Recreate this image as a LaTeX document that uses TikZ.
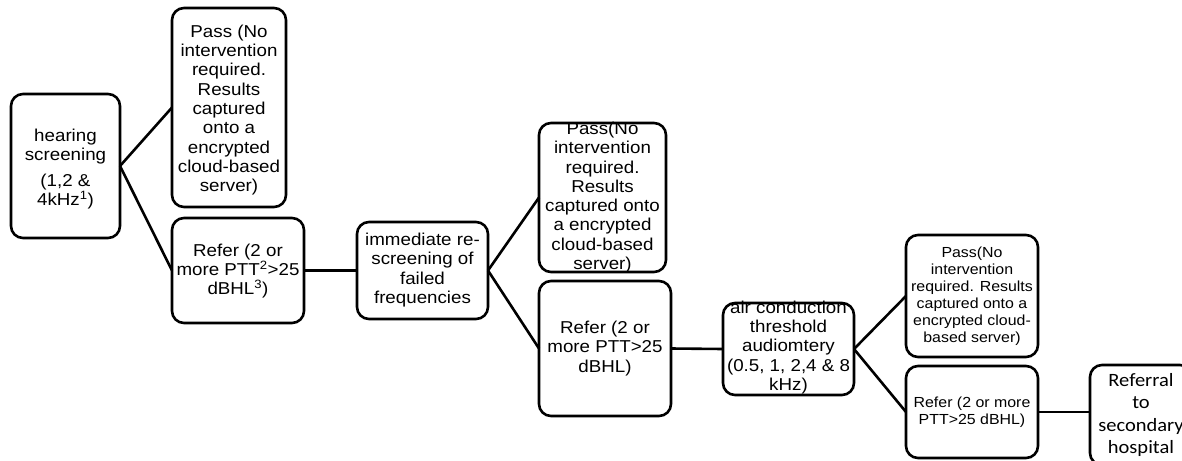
\documentclass[tikz,border=0pt]{standalone}
\usepackage{fontspec}
\setmainfont{Liberation Sans}[FakeStretch=1.09]
\newfontfamily\calfont{Carlito}[FakeStretch=1.09]

\tikzset{
  flowbox/.style={draw, line width=2.6pt, rounded corners=12pt,
    inner sep=0pt, outer sep=0pt},
  boxtext/.style={align=center, inner sep=0pt,
    font=\fontsize{17.2}{19.3}\selectfont},
  smalltext/.style={align=center, inner sep=0pt,
    font=\fontsize{14.6}{17}\selectfont},
  caltext/.style={align=center, inner sep=0pt,
    font=\calfont\fontsize{18.8}{22.5}\selectfont},
  link/.style={line width=2.6pt},
}

\begin{document}
\begin{tikzpicture}[x=1pt, y=-1pt]
  \useasboundingbox (0,0) rectangle (1182,460);
  \clip (0,0) rectangle (1182,460);

  % boxes
  \node[flowbox, minimum width=109, minimum height=144] (hs) at (65.5,166) {};
  \node[flowbox, minimum width=114, minimum height=199] (pass1) at (229,107.5) {};
  \node[flowbox, minimum width=132, minimum height=105] (ref1) at (238,270.5) {};
  \node[flowbox, minimum width=131, minimum height=97] (rescr) at (422.5,270.5) {};
  \node[flowbox, minimum width=127, minimum height=149] (pass2) at (602.5,197.5) {};
  \node[flowbox, minimum width=132, minimum height=135] (ref2) at (605,348.5) {};
  \node[flowbox, minimum width=131, minimum height=92] (aud) at (788.5,349) {};
  \node[flowbox, minimum width=132, minimum height=122] (pass3) at (972,296) {};
  \node[flowbox, minimum width=132, minimum height=92] (ref3) at (972,412) {};
  \node[flowbox, minimum width=102, minimum height=100] (sec) at (1141,415) {};

  % texts
  \node[boxtext] (hsT) at (65.5,169)
    {hearing\\screening\\[6pt](1,2 \&\\4kHz\textsuperscript{1})};
  \node[boxtext] (pass1T) at (229,110)
    {Pass (No\\intervention\\required.\\Results\\captured\\onto a\\encrypted\\cloud-based\\server)};
  \node[boxtext] (ref1T) at (238,271)
    {Refer (2 or\\more PTT\textsuperscript{2}>25\\dBHL\textsuperscript{3})};
  \node[boxtext] (rescrT) at (422.5,270)
    {immediate re-\\screening of\\failed\\frequencies};
  \node[boxtext] (pass2T) at (602.5,197.5)
    {Pass(No\\intervention\\required.\\Results\\captured onto\\a encrypted\\cloud-based\\server)};
  \node[boxtext] (ref2T) at (605,348.5)
    {Refer (2 or\\more PTT>25\\dBHL)};
  \node[boxtext] (audT) at (788.5,347.5)
    {air conduction\\threshold\\audiomtery\\(0.5, 1, 2,4 \& 8\\kHz)};
  \node[smalltext] (pass3T) at (972,296)
    {Pass(No\\intervention\\required. Results\\captured onto a\\encrypted cloud-\\based server)};
  \node[smalltext] (ref3T) at (972,412)
    {Refer (2 or more\\PTT>25 dBHL)};
  \node[caltext] (secT) at (1141,415)
    {Referral\\to\\secondary\\hospital};

  % connectors
  \draw[link] (hs.east) -- (pass1.west);
  \draw[link] (hs.east) -- (ref1.west);
  \draw[link] (ref1.east) -- (rescr.west);
  \draw[link] (rescr.east) -- (pass2.west);
  \draw[link] (rescr.east) -- (ref2.west);
  \draw[link] (ref2.east) -- (aud.west);
  \draw[link] (aud.east) -- (pass3.west);
  \draw[link] (aud.east) -- (ref3.west);
  \draw[link] (ref3.east) -- (ref3.east -| sec.west);
\end{tikzpicture}
\end{document}
